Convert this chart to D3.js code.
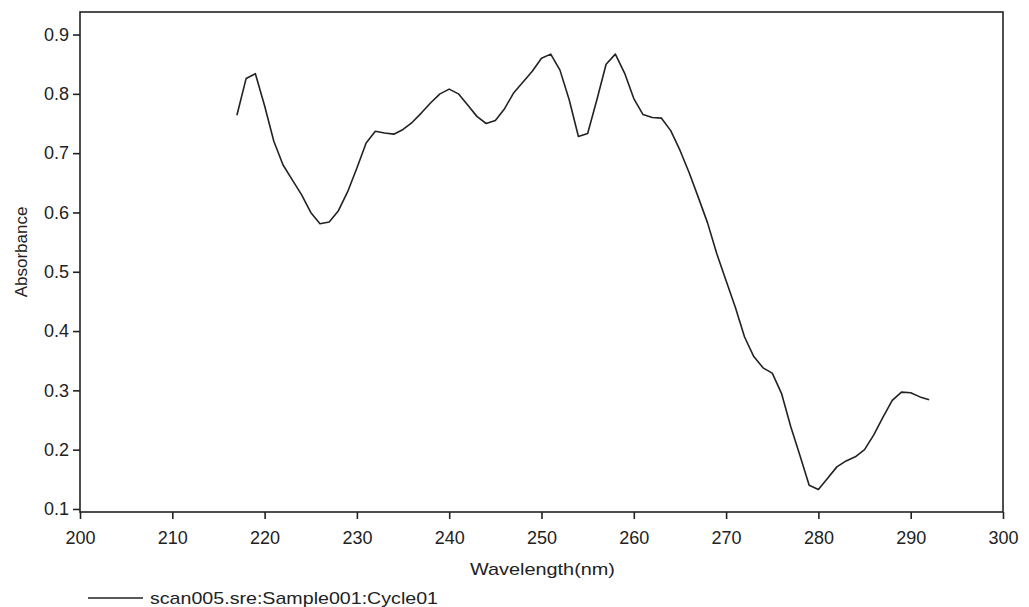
<!DOCTYPE html>
<html>
<head>
<meta charset="utf-8">
<script src="https://cdn.jsdelivr.net/npm/d3@7/dist/d3.min.js"></script>
<style>
  html, body { margin: 0; padding: 0; background: #fff; }
  svg { display: block; font-family: "Liberation Sans", Arial, sans-serif; }
</style>
</head>
<body>
<svg id="chart" width="1029" height="607"></svg>
<script>
// UV absorbance scan, 1 nm steps
const wavelengths = d3.range(217, 293);
const absorbance = [
  0.764, 0.826, 0.834, 0.780, 0.720, 0.680, 0.655, 0.630, 0.600, 0.581,
  0.584, 0.603, 0.635, 0.675, 0.717, 0.737, 0.734, 0.732, 0.740, 0.752,
  0.768, 0.785, 0.800, 0.808, 0.800, 0.781, 0.762, 0.750, 0.755, 0.775,
  0.802, 0.820, 0.838, 0.860, 0.867, 0.840, 0.790, 0.728, 0.733, 0.790,
  0.850, 0.867, 0.835, 0.792, 0.765, 0.760, 0.759, 0.738, 0.705, 0.667,
  0.625, 0.582, 0.530, 0.485, 0.440, 0.390, 0.357, 0.338, 0.329, 0.295,
  0.239, 0.190, 0.140, 0.133, 0.152, 0.171, 0.181, 0.188, 0.200, 0.225,
  0.255, 0.283, 0.297, 0.296, 0.289, 0.284
];
const xTicks = [200, 210, 220, 230, 240, 250, 260, 270, 280, 290, 300];
const yTicks = [0.1, 0.2, 0.3, 0.4, 0.5, 0.6, 0.7, 0.8, 0.9];
const seriesName = "scan005.sre:Sample001:Cycle01";

const data = wavelengths.map((w, i) => ({ w, a: absorbance[i] }));

const svg = d3.select("#chart");
const plotLeft = 80, plotRight = 1003, plotTop = 12, plotBottom = 512;
const ink = "#222";

const x = d3.scaleLinear().domain([200, 300]).range([plotLeft, plotRight]);
const y = d3.scaleLinear().domain([0.0949, 0.938]).range([plotBottom, plotTop]);

// plot frame
svg.append("rect")
  .attr("x", plotLeft).attr("y", plotTop)
  .attr("width", plotRight - plotLeft).attr("height", plotBottom - plotTop)
  .attr("fill", "none").attr("stroke", ink).attr("stroke-width", 1.6);

// x axis
const xAxis = svg.append("g")
  .attr("transform", `translate(0,${plotBottom})`)
  .call(d3.axisBottom(x).tickValues(xTicks).tickSize(7).tickPadding(12).tickFormat(d3.format("d")));
xAxis.select(".domain").remove();
xAxis.selectAll(".tick line").attr("stroke", ink).attr("stroke-width", 1.6);
xAxis.selectAll(".tick text")
  .attr("fill", ink).style("font-size", "18px")
  .style("font-family", "'Liberation Sans', Arial, sans-serif");

// y axis
const yAxis = svg.append("g")
  .attr("transform", `translate(${plotLeft},0)`)
  .call(d3.axisLeft(y).tickValues(yTicks).tickSize(7).tickPadding(4).tickFormat(d3.format(".1f")));
yAxis.select(".domain").remove();
yAxis.selectAll(".tick line").attr("stroke", ink).attr("stroke-width", 1.6);
yAxis.selectAll(".tick text")
  .attr("fill", ink).style("font-size", "18px")
  .style("font-family", "'Liberation Sans', Arial, sans-serif");

// axis titles
svg.append("text")
  .attr("x", 470).attr("y", 575)
  .attr("textLength", 145).attr("lengthAdjust", "spacingAndGlyphs")
  .attr("fill", ink).style("font-size", "17px")
  .text("Wavelength(nm)");

svg.append("text")
  .attr("transform", "translate(27,252) rotate(-90)")
  .attr("text-anchor", "middle")
  .attr("fill", ink).style("font-size", "17px")
  .text("Absorbance");

// spectrum line
const line = d3.line().x(d => x(d.w)).y(d => y(d.a));
svg.append("path")
  .datum(data)
  .attr("d", line)
  .attr("fill", "none")
  .attr("stroke", ink)
  .attr("stroke-width", 1.6)
  .attr("stroke-linejoin", "round");

// legend
const legend = svg.append("g");
legend.append("line")
  .attr("x1", 88).attr("x2", 143).attr("y1", 598).attr("y2", 598)
  .attr("stroke", ink).attr("stroke-width", 1.6);
legend.append("text")
  .attr("x", 150).attr("y", 604)
  .attr("textLength", 288).attr("lengthAdjust", "spacingAndGlyphs")
  .attr("fill", ink).style("font-size", "17px")
  .text(seriesName);
</script>
</body>
</html>
